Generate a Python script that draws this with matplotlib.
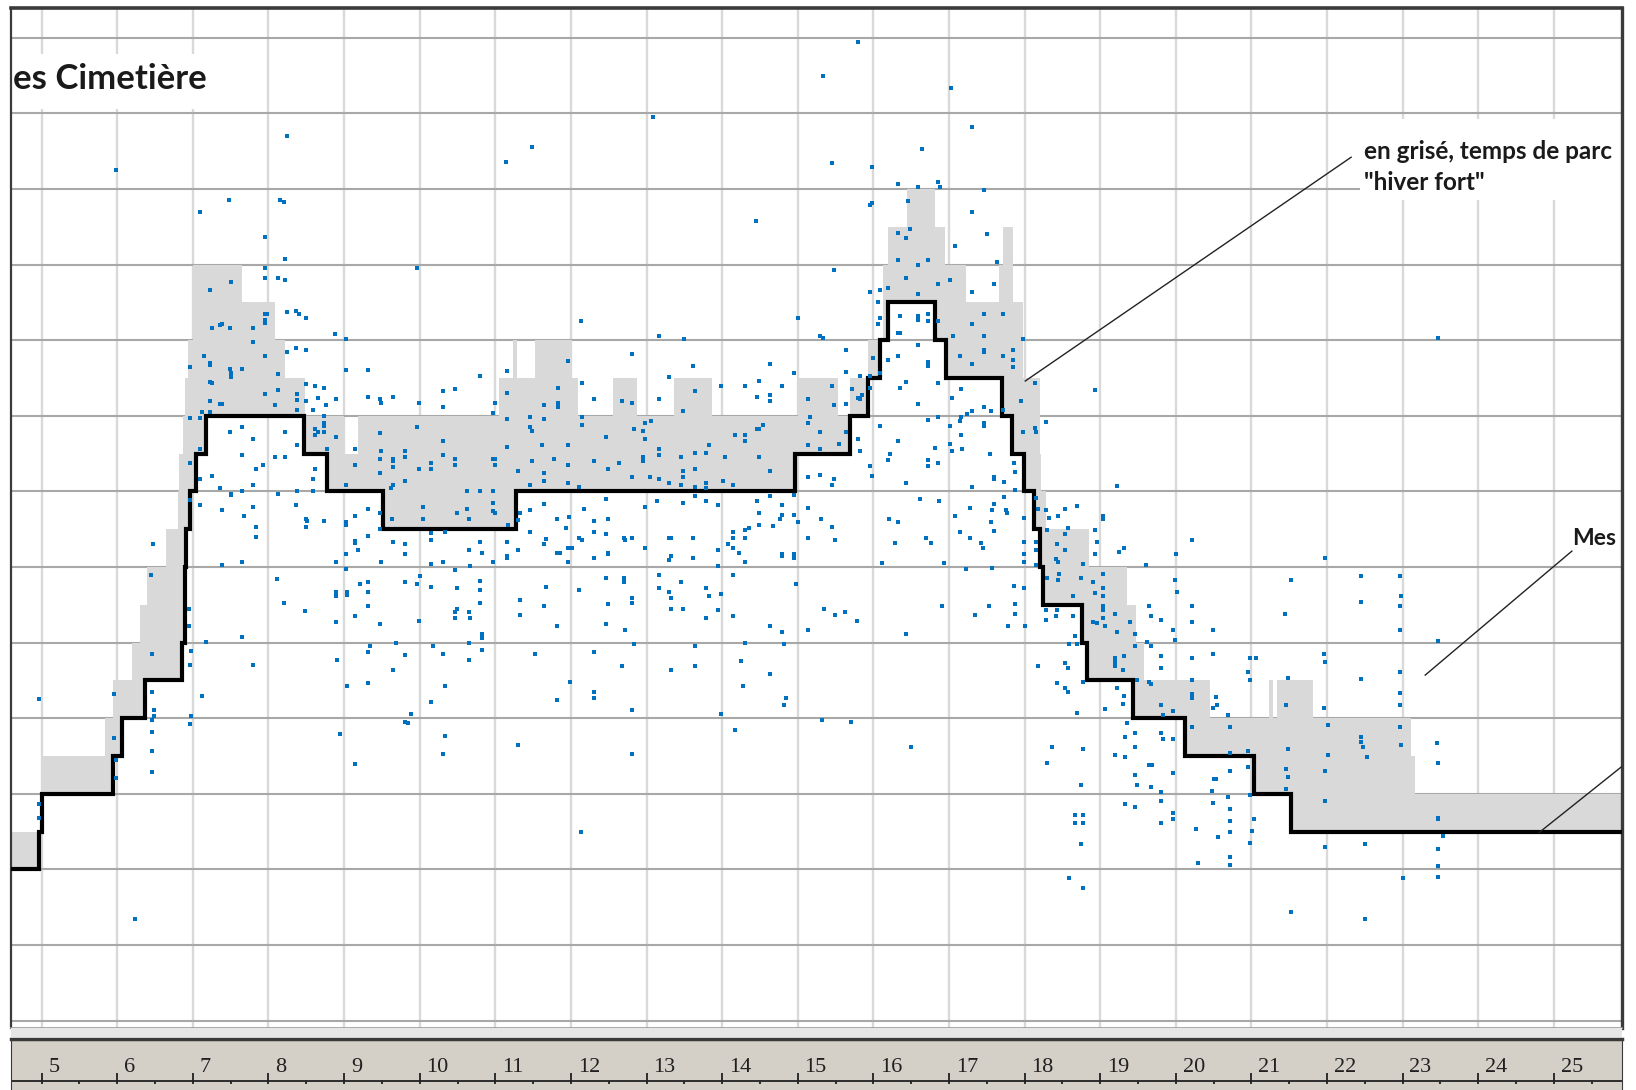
import numpy as np
import matplotlib
matplotlib.use("Agg")
import matplotlib.pyplot as plt
from matplotlib.patches import Rectangle
from matplotlib.lines import Line2D

# ---------------- data ----------------
hour_ticks = [5, 6, 7, 8, 9, 10, 11, 12, 13, 14, 15, 16, 17, 18, 19, 20, 21, 22, 23, 24, 25]

# reference travel time (black step line), step starts
black_x = [4.59, 4.96, 5.0, 5.94, 6.06, 6.37, 6.85, 6.89, 6.90, 6.91, 6.96, 7.04, 7.17, 8.47, 8.77,
           9.52, 11.27, 14.97, 15.69, 15.93, 16.09, 16.20, 16.82, 16.96, 17.70, 17.84, 17.99,
           18.12, 18.20, 18.25, 18.76, 18.83, 19.44, 20.12, 21.03, 21.53, 25.9]
black_y = [2.0, 2.5, 3.0, 3.5, 4.0, 4.5, 5.0, 5.5, 6.0, 6.5, 7.0, 7.5, 8.0, 7.5, 7.0,
           6.5, 7.0, 7.5, 8.0, 8.5, 9.0, 9.5, 9.0, 8.5, 8.0, 7.5, 7.0,
           6.5, 6.0, 5.5, 5.0, 4.5, 4.0, 3.5, 3.0, 2.5, 2.5]

# "hiver fort" travel time (upper edge of the grey area), step starts
upper_x = [4.59, 5.0, 5.84, 5.94, 6.2, 6.3, 6.39, 6.65, 6.8, 6.82, 6.87, 6.9, 6.94, 7.0, 7.65,
           8.09, 8.22, 8.48, 9.0, 9.19, 11.05, 11.24, 11.29, 11.52, 12.01, 12.09, 12.56, 12.87,
           13.36, 13.87, 15.0, 15.53, 15.69, 15.93, 16.13, 16.2, 16.44, 16.82, 16.95, 17.22,
           17.66, 17.72, 17.85, 17.98, 18.2, 18.22, 18.28, 18.85, 19.36, 19.48, 19.58, 20.46,
           21.23, 21.29, 21.34, 21.82, 23.11, 23.16, 25.9]
upper_y = [2.5, 3.5, 4.0, 4.5, 5.0, 5.5, 6.0, 6.5, 7.0, 7.5, 8.0, 8.5, 9.0, 10.0, 9.5,
           9.0, 8.5, 8.0, 7.5, 8.0, 8.5, 9.0, 8.5, 9.0, 8.5, 8.0, 8.5, 8.0,
           8.5, 8.0, 8.5, 8.0, 8.5, 9.0, 10.0, 10.5, 11.0, 10.5, 10.0, 9.5,
           10.0, 10.5, 9.5, 8.5, 7.5, 7.0, 6.5, 6.0, 5.5, 5.0, 4.5, 4.0,
           4.5, 4.0, 4.5, 4.0, 3.5, 3.0, 3.0]

# measured trips (blue dots): departure hour / travel time
dots_a_h = [4.96, 4.96, 4.96, 5.96, 5.96, 5.98, 5.98, 6.46, 6.46, 6.49,
            6.49, 6.46, 6.46, 6.46, 6.46, 6.98, 6.96, 7.12, 6.98, 6.96,
            7.80, 6.45, 6.95, 6.95, 7.17, 5.98, 6.24]
dots_a_t = [4.26, 2.87, 2.68, 4.32, 3.74, 3.45, 3.21, 4.85, 4.34, 4.11,
            4.03, 3.98, 3.82, 3.56, 3.29, 4.89, 4.71, 4.29, 4.03, 3.92,
            4.71, 5.89, 5.44, 5.22, 5.01, 11.25, 1.35]

dots_b_h = [7.96, 8.22, 7.96, 7.96, 8.12, 8.22, 9.96, 7.51, 7.23, 8.25,
            8.37, 8.40, 8.49, 7.96, 7.98, 7.96, 7.96, 7.25, 7.36, 7.38,
            7.49, 7.80, 7.80, 8.88, 7.15, 7.23, 7.23, 6.96, 7.49, 7.51,
            7.51, 7.65, 7.96, 8.12, 8.25, 8.36, 8.49, 7.23, 7.25, 7.96,
            8.12, 8.38, 8.49, 8.62, 8.73, 8.38, 8.49, 8.65, 8.76, 7.23,
            7.36, 7.38, 8.09, 8.38, 8.59, 7.12, 7.23, 6.96, 7.09, 8.73,
            8.73, 8.73, 8.62, 8.65, 8.62, 8.73, 8.78, 7.49, 7.65, 7.80,
            8.22, 8.38, 7.65, 8.09, 8.22, 7.93, 7.83, 7.09, 6.96, 7.09,
            7.25, 7.36, 7.51, 7.51, 7.65, 7.80, 8.12, 8.38, 8.62, 8.59,
            8.59, 6.96, 7.09, 7.38, 7.67, 7.80, 7.83, 7.83, 8.36, 8.49,
            8.51, 8.49, 8.73, 6.47, 7.10, 7.48, 8.24, 8.15, 8.20, 11.14,
            11.49, 13.09, 7.39, 7.65, 8.20, 8.48, 7.65, 8.11, 12.14, 15.00,
            12.14, 18.93, 23.47, 23.53]
dots_b_t = [10.37, 10.08, 9.95, 9.82, 9.82, 9.79, 9.95, 9.77, 9.66, 9.37,
            9.39, 9.35, 9.29, 9.35, 9.35, 9.27, 9.23, 9.16, 9.20, 9.21,
            9.16, 9.16, 8.98, 9.08, 8.79, 8.70, 8.67, 8.64, 8.62, 8.56,
            8.51, 8.62, 8.79, 8.55, 8.84, 8.90, 8.87, 8.45, 8.43, 8.29,
            8.34, 8.29, 8.42, 8.39, 8.37, 8.21, 8.19, 8.24, 8.14, 8.19,
            8.16, 8.16, 8.14, 8.08, 8.08, 8.05, 8.05, 7.97, 7.97, 8.00,
            7.91, 7.87, 7.82, 7.79, 7.74, 7.79, 7.56, 7.79, 7.85, 7.69,
            7.79, 7.61, 7.48, 7.45, 7.45, 7.35, 7.29, 7.56, 7.37, 7.16,
            7.21, 7.05, 6.97, 6.95, 7.00, 7.08, 6.97, 7.00, 7.29, 7.16,
            7.00, 6.88, 6.82, 6.76, 6.67, 6.79, 6.53, 6.40, 6.82, 6.64,
            6.61, 6.53, 6.61, 6.30, 10.70, 10.86, 11.70, 10.86, 10.83, 11.36,
            11.55, 11.95, 6.03, 6.07, 5.52, 5.42, 5.07, 5.84, 9.25, 9.30,
            2.50, 8.34, 9.03, 2.44]

dots_c_h = [9.02, 13.17, 13.49, 9.02, 9.31, 8.89, 9.31, 9.48, 9.49, 9.65,
            9.99, 10.31, 10.47, 10.31, 10.80, 11.15, 10.99, 10.97, 11.15, 11.15,
            11.46, 11.46, 11.48, 11.64, 11.64, 11.83, 11.83, 11.83, 11.96, 12.15,
            12.15, 12.15, 12.30, 12.81, 12.67, 12.81, 13.30, 13.17, 13.62, 13.64,
            13.48, 13.98, 14.30, 14.49, 14.64, 14.46, 14.64, 14.64, 14.79, 14.95,
            15.14, 8.89, 9.15, 9.15, 9.02, 9.48, 9.49, 9.48, 9.48, 9.65,
            9.65, 9.65, 9.65, 9.62, 9.81, 9.81, 9.81, 9.97, 9.99, 10.15,
            10.15, 10.31, 10.31, 10.47, 10.47, 10.97, 10.99, 10.99, 11.15, 11.30,
            11.46, 11.48, 11.62, 11.64, 11.64, 11.78, 11.96, 11.96, 11.96, 12.11,
            12.30, 12.46, 12.49, 12.64, 12.83, 12.81, 12.96, 12.98, 12.96, 12.96,
            13.04, 13.06, 12.98, 13.17, 13.17, 13.17, 13.30, 13.46, 13.48, 13.48,
            13.46, 13.64, 13.64, 13.64, 13.79, 13.82, 13.79, 13.79, 14.04, 14.01,
            14.14, 14.17, 14.30, 14.30, 14.46, 14.49, 14.54, 14.49, 14.64, 15.14,
            15.14, 9.63, 10.05, 10.05, 10.63, 10.80, 10.97, 10.97, 10.97, 10.99,
            10.63, 10.49, 10.65, 11.17, 9.02, 9.02, 9.15, 9.31, 9.48, 9.48,
            9.15, 9.15, 9.31, 9.18, 9.02, 8.89, 9.02, 9.65, 9.81, 9.81,
            9.49, 10.15, 10.15, 10.33, 10.15, 10.31, 10.65, 10.80, 10.83, 10.67,
            10.47, 10.97, 11.15, 11.15, 11.15, 11.30, 11.33, 11.30, 11.46, 11.46,
            11.64, 11.67, 11.64, 11.81, 11.81, 11.85, 11.93, 11.98, 11.96, 12.01,
            11.96, 12.11, 12.15, 12.17, 12.30, 12.30, 12.30, 12.46, 12.49, 12.46,
            12.49, 12.49, 12.70, 12.72, 12.81, 12.98, 12.98, 13.14, 13.30, 13.33,
            13.33, 13.30, 13.48, 13.62, 13.62, 13.64, 13.79, 13.95, 13.95, 13.95,
            14.08, 14.14, 14.14, 14.14, 14.22, 14.30, 14.30, 14.30, 14.35, 14.49,
            14.49, 14.46, 14.67, 14.79, 14.79, 14.77, 14.79, 14.79, 14.95, 14.95,
            14.95, 15.00, 14.95, 15.14, 15.14, 14.64, 8.89, 8.89, 9.04, 9.04,
            9.21, 9.31, 9.31, 9.31, 9.15, 8.89, 9.48, 9.81, 9.97, 10.01,
            10.15, 9.99, 10.49, 10.49, 10.47, 10.47, 10.65, 10.67, 10.80, 10.80,
            10.80, 10.83, 10.83, 10.65, 10.83, 11.33, 11.33, 11.67, 11.64, 11.81,
            12.11, 12.46, 12.70, 12.70, 12.81, 12.81, 12.49, 12.46, 12.72, 12.83,
            13.17, 13.17, 13.30, 13.33, 13.33, 13.48, 13.46, 13.79, 13.82, 13.98,
            13.95, 13.79, 14.14, 14.14, 14.64, 14.79, 14.98, 15.14, 8.91, 9.31,
            9.34, 9.68, 9.65, 9.81, 9.31, 9.04, 10.17, 10.31, 10.65, 10.33,
            10.15, 9.89, 9.81, 9.84, 8.94, 9.15, 10.33, 10.31, 11.30, 11.52,
            11.99, 11.81, 12.30, 12.30, 12.30, 12.67, 12.81, 12.81, 13.33, 13.64,
            13.64, 13.98, 14.17, 14.25, 14.30, 14.27, 14.64, 14.82, 14.85, 14.82]
dots_c_t = [9.02, 9.06, 9.01, 8.61, 8.61, 8.22, 8.25, 8.22, 8.17, 8.25,
            8.17, 8.33, 8.35, 8.11, 8.53, 8.59, 8.17, 8.04, 8.30, 7.96,
            7.98, 7.85, 7.80, 8.14, 7.96, 8.37, 8.17, 8.12, 8.72, 8.44,
            7.98, 7.88, 8.22, 8.82, 8.19, 8.17, 8.51, 8.22, 8.66, 8.33,
            8.06, 8.40, 8.40, 8.46, 8.69, 8.25, 8.27, 8.19, 8.40, 8.56,
            8.22, 7.72, 7.56, 7.35, 7.09, 7.77, 7.53, 7.43, 7.24, 7.43,
            7.40, 7.32, 7.09, 7.05, 7.53, 7.45, 7.14, 7.85, 7.30, 7.38,
            7.30, 7.67, 7.48, 7.43, 7.35, 7.43, 7.43, 7.35, 7.59, 7.27,
            7.09, 7.40, 7.61, 7.24, 7.14, 7.43, 7.61, 7.35, 7.11, 7.06,
            7.40, 7.72, 7.30, 7.38, 7.83, 7.19, 7.80, 7.69, 7.45, 7.40,
            7.19, 7.93, 7.91, 7.56, 7.48, 7.16, 7.11, 7.45, 7.27, 7.19,
            7.09, 7.51, 7.30, 7.06, 7.51, 7.61, 7.11, 7.05, 7.45, 7.14,
            7.09, 7.75, 7.75, 7.67, 7.83, 7.83, 7.88, 7.45, 7.27, 7.61,
            7.19, 6.64, 6.79, 6.64, 7.01, 7.01, 7.01, 6.85, 6.74, 6.72,
            6.77, 6.72, 6.64, 6.56, 6.59, 6.56, 6.67, 6.77, 6.72, 6.50,
            6.35, 6.32, 6.41, 6.22, 6.17, 6.06, 5.98, 6.33, 6.30, 6.17,
            6.06, 6.45, 6.36, 6.46, 6.04, 6.06, 6.22, 6.33, 6.19, 6.01,
            5.96, 6.06, 6.33, 6.14, 6.12, 6.22, 6.72, 6.62, 6.75, 6.46,
            6.83, 6.37, 6.30, 6.64, 6.19, 6.19, 6.51, 6.66, 6.25, 6.25,
            6.06, 6.38, 6.36, 6.77, 6.61, 6.46, 6.12, 6.90, 6.64, 6.43,
            6.19, 6.17, 6.38, 6.36, 6.38, 6.80, 6.25, 6.87, 6.38, 6.38,
            6.14, 6.09, 6.85, 6.38, 6.12, 6.94, 6.87, 6.82, 6.22, 6.01,
            6.30, 6.46, 6.38, 6.25, 6.19, 6.06, 6.49, 6.38, 6.51, 6.56,
            6.72, 6.87, 6.54, 6.82, 6.69, 6.64, 6.17, 6.14, 6.69, 6.17,
            6.12, 6.59, 6.95, 6.38, 6.78, 6.94, 5.67, 5.62, 5.67, 5.63,
            5.77, 5.80, 5.67, 5.48, 5.35, 5.27, 5.24, 5.80, 5.77, 5.88,
            5.74, 5.29, 5.72, 5.45, 5.40, 5.32, 5.40, 5.32, 5.82, 5.69,
            5.53, 5.11, 5.06, 5.00, 4.90, 5.56, 5.37, 5.74, 5.48, 5.22,
            5.69, 5.85, 5.85, 5.80, 5.59, 5.53, 5.51, 5.24, 5.16, 4.98,
            5.90, 5.72, 5.67, 5.59, 5.45, 5.45, 5.80, 5.72, 5.61, 5.64,
            5.43, 5.32, 5.90, 5.35, 5.22, 5.14, 5.77, 5.16, 4.77, 4.87,
            4.96, 5.00, 4.64, 4.83, 4.46, 4.43, 4.96, 4.85, 4.77, 4.43,
            4.22, 4.06, 3.95, 3.93, 3.79, 3.40, 3.77, 3.53, 3.64, 4.85,
            4.48, 4.24, 4.87, 4.35, 4.27, 4.69, 4.11, 3.53, 4.64, 4.96,
            4.69, 4.06, 3.85, 4.75, 5.00, 4.43, 4.59, 4.98, 4.27, 4.17]

dots_d_h = [15.80, 15.33, 17.03, 17.30, 16.64, 15.46, 15.98, 16.33, 16.59, 16.85,
            16.88, 17.46, 15.96, 15.98, 16.46, 17.30, 14.45, 16.33, 16.49, 16.43,
            17.51, 15.48, 16.32, 16.59, 16.72, 16.43, 16.85, 17.01, 16.59, 16.20,
            16.09, 15.96, 16.06, 17.30, 17.59, 17.64, 17.08, 16.09, 16.06, 16.35,
            16.59, 16.59, 16.72, 16.72, 16.86, 16.32, 16.35, 17.06, 17.30, 17.46,
            17.72, 15.30, 15.33, 17.46, 17.98, 15.64, 16.59, 16.19, 16.32, 16.72,
            16.72, 17.14, 17.30, 17.46, 17.46, 17.72, 17.85, 17.85, 17.85, 15.99,
            15.64, 15.82, 15.96, 16.09, 15.45, 15.72, 15.80, 15.85, 15.82, 15.64,
            15.48, 15.96, 16.35, 16.43, 16.85, 17.16, 17.04, 16.59, 17.24, 17.30,
            17.46, 17.56, 17.72, 17.96, 18.14, 15.16, 15.14, 15.30, 15.54, 15.30,
            15.64, 16.09, 15.80, 15.82, 16.33, 16.72, 16.85, 17.02, 17.14, 17.16,
            17.16, 17.46, 17.46, 17.98, 18.14, 18.28, 18.15, 16.82, 17.01, 17.04,
            17.17, 16.85, 16.72, 16.72, 16.22, 16.19, 15.96, 15.98, 16.43, 17.30,
            15.30, 15.46, 15.48]
dots_d_t = [12.95, 12.50, 12.34, 11.82, 11.53, 11.34, 11.29, 11.06, 11.03, 11.09,
            11.03, 10.98, 10.79, 10.82, 10.84, 10.69, 10.58, 10.42, 10.47, 10.35,
            10.40, 9.93, 10.06, 10.00, 10.06, 9.82, 9.74, 9.80, 9.61, 9.69,
            9.66, 9.64, 9.51, 9.64, 9.74, 10.03, 10.24, 9.30, 9.22, 9.32,
            9.32, 9.27, 9.35, 9.25, 9.25, 9.09, 9.09, 9.06, 9.22, 9.34,
            9.34, 9.06, 9.03, 9.06, 9.01, 8.87, 8.93, 8.74, 8.79, 8.71,
            8.66, 8.79, 8.69, 8.87, 8.85, 8.79, 8.87, 8.74, 8.64, 8.77,
            8.58, 8.53, 8.53, 8.56, 8.40, 8.35, 8.24, 8.27, 8.22, 8.16,
            8.14, 8.37, 8.37, 8.45, 8.43, 8.35, 8.24, 8.16, 8.03, 8.06,
            8.11, 8.06, 8.08, 8.19, 8.43, 7.98, 7.90, 7.79, 7.63, 7.56,
            7.79, 7.87, 7.69, 7.53, 7.66, 7.95, 7.98, 7.87, 7.93, 7.98,
            7.74, 7.90, 7.87, 7.79, 7.84, 7.92, 7.79, 7.58, 7.63, 7.53,
            7.56, 7.37, 7.42, 7.34, 7.50, 7.42, 7.34, 7.21, 7.11, 7.06,
            7.22, 7.09, 7.16]

dots_e_h = [15.31, 15.45, 15.49, 15.35, 15.49, 15.63, 15.79, 15.32, 15.70, 16.11,
            16.21, 16.32, 16.29, 16.43, 16.50, 16.62, 16.70, 16.76, 16.87, 16.94,
            17.23, 17.28, 17.42, 17.56, 17.08, 17.15, 17.28, 17.45, 16.91, 17.35,
            17.53]
dots_e_t = [6.64, 6.53, 6.36, 5.44, 5.36, 5.41, 5.29, 3.98, 3.95, 6.05,
            6.63, 6.60, 6.32, 5.12, 3.62, 6.90, 6.39, 6.32, 6.87, 6.05,
            5.98, 6.78, 6.32, 6.60, 6.67, 6.46, 6.39, 6.25, 5.49, 5.36,
            5.49]

dots_f_h = [17.54, 17.86, 17.88, 17.60, 17.60, 17.73, 17.88, 17.73, 17.60, 17.57,
            17.75, 17.77, 17.99, 17.60, 17.57, 19.22, 18.15, 18.18, 18.28, 18.33,
            18.44, 18.54, 18.70, 19.04, 19.04, 18.30, 18.57, 18.54, 18.93, 18.96,
            18.93, 17.99, 18.15, 18.15, 17.99, 17.99, 18.15, 18.43, 18.54, 18.41,
            18.44, 18.78, 19.25, 19.32, 19.61, 20.22, 20.01, 21.98, 18.30, 18.44,
            18.46, 18.75, 18.91, 19.04, 19.04, 18.93, 19.04, 18.64, 17.86, 17.99,
            17.88, 17.88, 17.78, 18.01, 18.28, 18.28, 18.43, 18.41, 18.64, 19.04,
            19.04, 19.04, 18.91, 18.96, 19.07, 19.20, 19.22, 19.40, 19.46, 19.65,
            19.67, 19.80, 19.96, 19.99, 19.99, 20.02, 20.22, 20.22, 20.49, 18.67,
            18.59, 18.70, 19.62, 19.67, 23.47, 19.46, 19.32, 19.20, 19.20, 19.20,
            19.30, 19.80, 19.80, 20.22, 20.49, 20.98, 21.06, 21.96, 21.98, 22.96,
            18.18, 18.54, 18.57, 20.96, 20.98, 18.43, 18.54, 18.57, 18.77, 19.22,
            19.32, 19.30, 19.49, 19.65, 19.67, 20.22, 20.22, 20.22, 20.53, 20.49,
            20.54, 21.48, 21.46, 21.96, 22.45, 22.96, 22.96, 22.98, 22.96, 22.96,
            22.96, 22.45, 22.45, 21.53, 21.45, 18.70, 19.07, 19.80, 19.83, 19.96,
            20.69, 19.36, 19.46, 19.33, 19.80, 19.83, 19.96, 19.46, 19.20, 19.33,
            18.36, 18.77, 18.30, 19.65, 19.68, 19.96, 19.46, 19.49, 19.67, 20.22,
            20.72, 20.72, 20.96, 20.96, 20.72, 21.48, 21.46, 21.48, 21.46, 21.98,
            22.01, 22.01, 22.45, 22.48, 22.45, 22.53, 22.96, 22.98, 23.45, 23.47,
            21.98, 23.47, 23.47, 20.51, 20.53, 20.48, 20.49, 20.69, 20.72, 20.72,
            20.72, 20.56, 20.27, 20.98, 21.04, 21.01, 20.98, 20.72, 20.72, 20.30,
            19.80, 19.80, 19.96, 19.96, 19.80, 19.33, 19.46, 18.75, 18.67, 18.77,
            18.67, 18.77, 18.75, 18.59, 18.77, 21.98, 22.50, 23.00, 21.53, 22.50,
            23.47, 23.47, 23.47]
dots_f_t = [7.49, 7.38, 7.25, 7.19, 7.16, 7.12, 7.02, 6.93, 6.83, 6.75,
            6.75, 6.72, 6.65, 6.47, 5.99, 7.07, 6.91, 6.77, 6.75, 6.65,
            6.67, 6.77, 6.81, 6.67, 6.64, 6.49, 6.51, 6.44, 6.49, 6.33,
            6.17, 6.33, 6.33, 6.23, 6.17, 6.07, 6.02, 6.31, 6.23, 6.10,
            6.07, 6.04, 6.20, 6.25, 6.02, 6.36, 6.17, 6.12, 5.86, 5.83,
            5.91, 5.86, 5.80, 5.91, 5.72, 5.65, 5.62, 5.62, 5.75, 5.72,
            5.51, 5.38, 5.22, 5.22, 5.43, 5.30, 5.43, 5.35, 5.35, 5.49,
            5.43, 5.33, 5.27, 5.26, 5.22, 5.38, 5.14, 5.27, 5.12, 5.49,
            5.35, 5.30, 5.17, 5.04, 5.83, 5.67, 5.49, 5.27, 5.17, 5.09,
            4.98, 4.98, 5.01, 4.96, 5.02, 4.96, 4.82, 4.80, 4.74, 4.69,
            4.64, 4.82, 4.67, 4.80, 4.85, 4.80, 4.80, 4.85, 4.74, 4.61,
            4.69, 4.73, 4.67, 4.61, 4.51, 4.46, 4.40, 4.35, 4.48, 4.40,
            4.29, 4.19, 4.51, 4.48, 4.45, 4.51, 4.32, 4.27, 4.28, 4.14,
            4.17, 4.53, 4.17, 4.13, 4.52, 4.33, 4.17, 5.62, 5.17, 5.88,
            5.49, 5.88, 5.54, 5.83, 5.38, 4.07, 4.12, 4.17, 4.04, 4.09,
            4.04, 3.93, 3.80, 3.75, 3.80, 3.72, 3.72, 3.62, 3.51, 3.49,
            3.62, 3.59, 3.41, 3.38, 3.38, 3.28, 3.25, 3.12, 3.09, 3.88,
            3.88, 3.54, 3.57, 3.35, 3.30, 3.59, 3.33, 3.22, 3.06, 3.30,
            3.51, 3.91, 3.75, 3.62, 3.68, 3.49, 3.88, 3.65, 3.67, 3.41,
            2.91, 2.68, 2.66, 3.20, 3.20, 3.04, 2.88, 2.96, 2.80, 2.64,
            2.49, 2.43, 2.54, 2.99, 2.67, 2.51, 2.35, 2.17, 2.06, 2.09,
            3.02, 2.91, 2.75, 2.67, 2.62, 2.86, 2.83, 3.12, 2.72, 2.72,
            2.62, 2.62, 2.33, 1.88, 1.75, 2.30, 2.33, 1.88, 1.43, 1.35,
            2.04, 1.90, 2.27]

# ---------------- figure ----------------
W, H = 1636, 1090
L, R, T, B = 11, 1622, 8, 1028
fig = plt.figure(figsize=(W / 100, H / 100), dpi=100)
fig.patch.set_facecolor("white")

ax = fig.add_axes([L / W, 1 - B / H, (R - L) / W, (B - T) / H])
ax.set_xlim(4.594, 25.903)
ax.set_ylim(-0.098, 13.394)
ax.set_xticks(hour_ticks)
ax.set_yticks(range(0, 14))
ax.tick_params(length=0, labelbottom=False, labelleft=False)
ax.set_axisbelow(True)
ax.grid(axis="x", color="#d9d9d9", lw=1.7)
ax.grid(axis="y", color="#a8a8a8", lw=1.5)

for s in ("top", "left", "right"):
    ax.spines[s].set_color("#3a3a3a")
ax.spines["top"].set_linewidth(2.6)
ax.spines["left"].set_linewidth(1.6)
ax.spines["right"].set_linewidth(2.4)
ax.spines["bottom"].set_color("#9a9a9a")
ax.spines["bottom"].set_linewidth(1.2)

# grey area between reference and "hiver fort" curves
bx = np.array(black_x); by = np.array(black_y)
ux = np.array(upper_x); uy = np.array(upper_y)
xs = np.unique(np.concatenate([bx, ux]))
b_on = by[np.searchsorted(bx, xs, side="right") - 1]
u_on = uy[np.searchsorted(ux, xs, side="right") - 1]
ax.fill_between(xs, b_on, np.maximum(u_on, b_on), step="post",
                color="#d9d9d9", lw=0, zorder=1)

# white boxes behind the text labels
ax.add_patch(Rectangle((4.594, 12.06), 2.97, 0.72, fc="white", ec="none", zorder=0.9))
ax.add_patch(Rectangle((22.44, 10.86), 3.5, 1.06, fc="white", ec="none", zorder=0.9))

# black reference line
ax.step(black_x, black_y, where="post", color="black", lw=3.0, zorder=3,
        solid_joinstyle="miter")

# measured points
all_h = dots_a_h + dots_b_h + dots_c_h + dots_d_h + dots_e_h + dots_f_h
all_t = dots_a_t + dots_b_t + dots_c_t + dots_d_t + dots_e_t + dots_f_t
ax.scatter(all_h, all_t, marker="s", s=7, color="#0070c0", lw=0, zorder=4)

# texts (as visible in the reference, which is cropped at the frame)
ax.text(4.615, 12.46, "es Cimetière", family="Lato", fontweight="bold", fontsize=25,
        color="#1a1a1a", ha="left", va="center", zorder=5)
ax.text(22.49, 11.49, "en grisé, temps de parc", family="Lato", fontweight="bold",
        fontsize=17.5, color="#1a1a1a", ha="left", va="center", zorder=5)
ax.text(22.49, 11.08, "\"hiver fort\"", family="Lato", fontweight="bold",
        fontsize=17.5, color="#1a1a1a", ha="left", va="center", zorder=5)
ax.text(25.24, 6.38, "Mes", family="Lato", fontweight="bold",
        fontsize=16.5, color="#1a1a1a", ha="left", va="center", zorder=5)

# leader lines
ax.plot([22.32, 18.01], [11.42, 8.46], color="#222222", lw=1.0, zorder=5)
ax.plot([25.24, 23.30], [6.21, 4.57], color="#222222", lw=1.0, zorder=5)
ax.plot([25.90, 24.81], [3.36, 2.49], color="#222222", lw=1.0, zorder=5)

# window bottom separator
fig.add_artist(Rectangle((L / W, 1 - 1037 / H), (R - L) / W, 9 / H,
                         transform=fig.transFigure, fc="#e6e6e6", ec="none"))
fig.add_artist(Line2D([L / W, R / W], [1 - 1039 / H] * 2, transform=fig.transFigure,
                      color="#3a3a3a", lw=2.5))

# time ruler
rax = fig.add_axes([L / W, 0, (R - L) / W, (H - 1041) / H])
rax.set_xlim(4.594, 25.903)
rax.set_ylim(0, 49)
rax.set_facecolor("#d4d0c8")
rax.set_xticks([]); rax.set_yticks([])
for s in rax.spines.values():
    s.set_visible(False)
rax.spines["left"].set_visible(True); rax.spines["left"].set_color("#3a3a3a")
rax.spines["right"].set_visible(True); rax.spines["right"].set_color("#3a3a3a")
rax.axhline(9, color="#202020", lw=1.3)
rax.vlines(hour_ticks, 6, 17, color="#202020", lw=1.3)
rax.vlines(np.array(hour_ticks) + 0.5, 6, 9, color="#202020", lw=1.3)
for h in hour_ticks:
    rax.text(h + 0.09, 13, str(h), family="Liberation Serif", fontsize=16,
             color="#202020", ha="left", va="bottom")

fig.savefig("out.png", dpi=100, facecolor="white")
